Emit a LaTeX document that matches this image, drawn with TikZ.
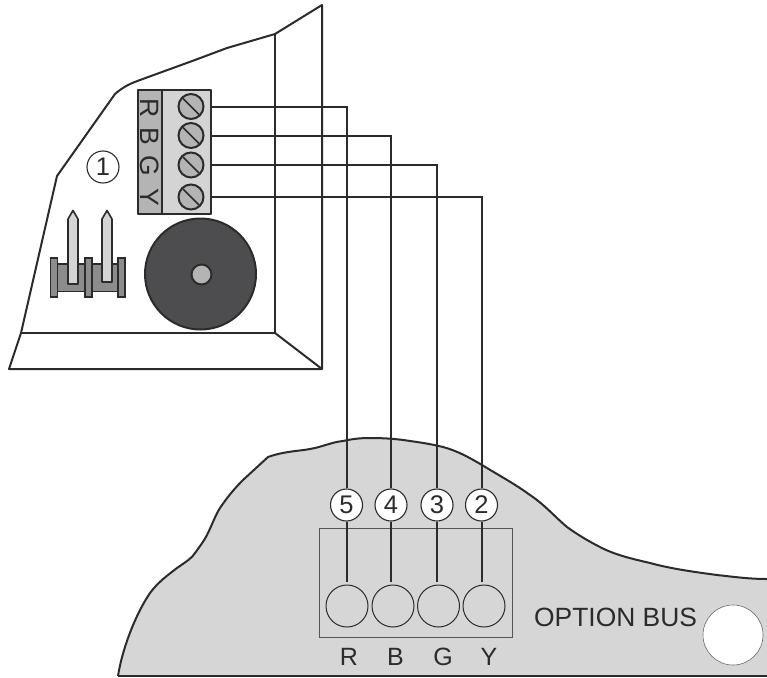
\documentclass[tikz,border=0pt]{standalone}
\usepackage{fontspec}
\usetikzlibrary{calc}
\setmainfont{Liberation Sans}
\definecolor{ink}{HTML}{2B2B2B}
\definecolor{panel}{HTML}{D6D6D6}
\definecolor{midgray}{HTML}{B4B4B4}
\definecolor{dark}{HTML}{4D4D4F}
\definecolor{conn}{HTML}{8C8C8C}
\definecolor{pinfill}{HTML}{D4D4D4}
\tikzset{
 outline/.style={draw=ink,line width=2pt,line join=round},
 wire/.style={draw=ink,line width=2pt},
 numcirc/.style={circle,draw=ink,fill=white,line width=1.1pt,minimum size=32pt,inner sep=0pt,font=\fontsize{25.5}{27}\selectfont,text=ink},
 screw/.style={circle,draw=ink,fill=midgray,line width=2pt,minimum size=25pt,inner sep=0pt},
 socket/.style={circle,draw=ink,line width=1pt,minimum size=42pt,inner sep=0pt},
 lab/.style={font=\fontsize{25}{27}\selectfont,text=ink,inner sep=0pt},
 blocklab/.style={font=\fontsize{26.5}{28}\selectfont,text=ink,inner sep=0pt,rotate=-90},
 post/.style={draw=ink,fill=conn,line width=1.6pt},
 pinshape/.style={draw=ink,fill=pinfill,line width=1.6pt,line join=round},
}
\def\boardcurve{(118,676) .. controls (122,650) and (135,615) .. (150,593)
 .. controls (158,582) and (168,575) .. (177,568)
 .. controls (187,561) and (192,558) .. (195,553)
 .. controls (200,546) and (204,541) .. (207,535)
 .. controls (212,525) and (215,516) .. (220,508)
 .. controls (228,496) and (236,487) .. (243,480)
 -- (268,457)
 .. controls (285,451) and (300,451) .. (310,449)
 .. controls (322,447) and (332,442) .. (343,441)
 .. controls (352,439) and (360,438) .. (370,438)
 .. controls (385,438) and (398,439) .. (410,441)
 .. controls (425,443) and (435,445) .. (443,447)
 .. controls (458,451) and (470,458) .. (482,465)
 .. controls (500,476) and (515,484) .. (530,495)
 .. controls (545,505) and (555,517) .. (567,527)
 .. controls (578,535) and (590,542) .. (600,547)
 .. controls (615,555) and (633,559) .. (650,563)
 .. controls (672,569) and (695,572) .. (717,575)
 .. controls (735,577) and (750,579) .. (767,579)}
\begin{document}
\begin{tikzpicture}[x=1pt,y=-1pt]
\useasboundingbox (0,0) rectangle (767,677);
% lower board
\path[fill=panel] \boardcurve -- (767,677) -- (118,677) -- cycle;
\draw[outline] \boardcurve;
\draw[outline] (118,676) -- (767,676);
\node[draw=ink!80,line width=1pt,minimum width=193pt,minimum height=109pt,inner sep=0pt] (busbox) at (415.5,582.5) {};
% upper device
\draw[outline] (9,369) -- (21,333) -- (57,176) -- (115,94) .. controls (124,86) and (132,83) .. (140,80)
 -- (195,60) -- (227,48) -- (275,34) -- (322,5) -- (322,369) -- cycle;
\draw[outline] (21,333) -- (275,333) -- (275,34);
\draw[outline] (275,333) -- (322,369);
% sockets and numbered circles
\node[socket] (sR) at (347,606) {};
\node[socket] (sB) at (393,606) {};
\node[socket] (sG) at (438.5,606) {};
\node[socket] (sY) at (484,606) {};
\node[numcirc] (n5) at (346.5,505) {5};
\node[numcirc] (n4) at (391,505) {4};
\node[numcirc] (n3) at (437,505) {3};
\node[numcirc] (n2) at (481.5,505) {2};
\node[numcirc,fill=none] (n1) at (103,167) {1};
% wires
\coordinate (w5) at (211,106.5);
\coordinate (w4) at (211,135.5);
\coordinate (w3) at (211,165);
\coordinate (w2) at (211,196.5);
\draw[wire] (w5) -| (n5.north);
\draw[wire] (w4) -| (n4.north);
\draw[wire] (w3) -| (n3.north);
\draw[wire] (w2) -| (n2.north);
\draw[wire,shorten >=3pt] (n5.south) -- (n5.south |- sR.north);
\draw[wire,shorten >=3pt] (n4.south) -- (n4.south |- sB.north);
\draw[wire,shorten >=3pt] (n3.south) -- (n3.south |- sG.north);
\draw[wire,shorten >=3pt] (n2.south) -- (n2.south |- sY.north);
% terminal block
\fill[pinfill] (162,89.5) rectangle (211,214);
\fill[midgray] (137.5,89.5) rectangle (162,214);
\draw[outline] (137.5,89.5) rectangle (211,214);
\draw[outline] (162,89.5) -- (162,214);
\node[blocklab] (tR) at (150,108) {R};
\node[blocklab] (tB) at (150,136) {B};
\node[blocklab] (tG) at (150,166) {G};
\node[blocklab] (tY) at (150,197) {Y};
\foreach \n/\y in {a/106.5,b/135.5,c/165,d/197}{
 \node[screw] (scr\n) at (191,\y) {};
 \draw[ink,line width=1.6pt] ($(scr\n.center)+(-8,-8)$) -- ($(scr\n.center)+(8,8)$);
}
% buzzer
\node[circle,draw=ink,fill=dark,line width=2pt,minimum size=111pt,inner sep=0pt] (buzzer) at (200.5,274) {};
\node[circle,draw=ink,fill=midgray,line width=2pt,minimum size=20pt,inner sep=0pt] (hub) at (201.5,274.5) {};
% jumper
\draw[post,fill=conn] (57,264) rectangle (119,291.5);
\draw[pinshape] (68,284) -- (68,219) -- (73,210.5) -- (78,219) -- (78,284) -- cycle;
\draw[pinshape] (102,282) -- (102,219) -- (107,210.5) -- (112,219) -- (112,282) -- cycle;
\draw[post] (50.5,258) rectangle (57.5,297);
\draw[post] (85,258) rectangle (92,297);
\draw[post] (118,258) rectangle (125,297);
% labels
\node[lab] (lR) at (349,656.5) {R};
\node[lab] (lB) at (395.5,656.5) {B};
\node[lab] (lG) at (443,656.5) {G};
\node[lab] (lY) at (489,656.5) {Y};
\node[lab,font=\fontsize{26.4}{28}\selectfont,anchor=west] (opt) at (534,617.5) {OPTION BUS};
\node[circle,draw=ink!70,fill=white,line width=0.6pt,minimum size=60pt,inner sep=0pt] (optc) at (733,635) {};
\end{tikzpicture}
\end{document}
